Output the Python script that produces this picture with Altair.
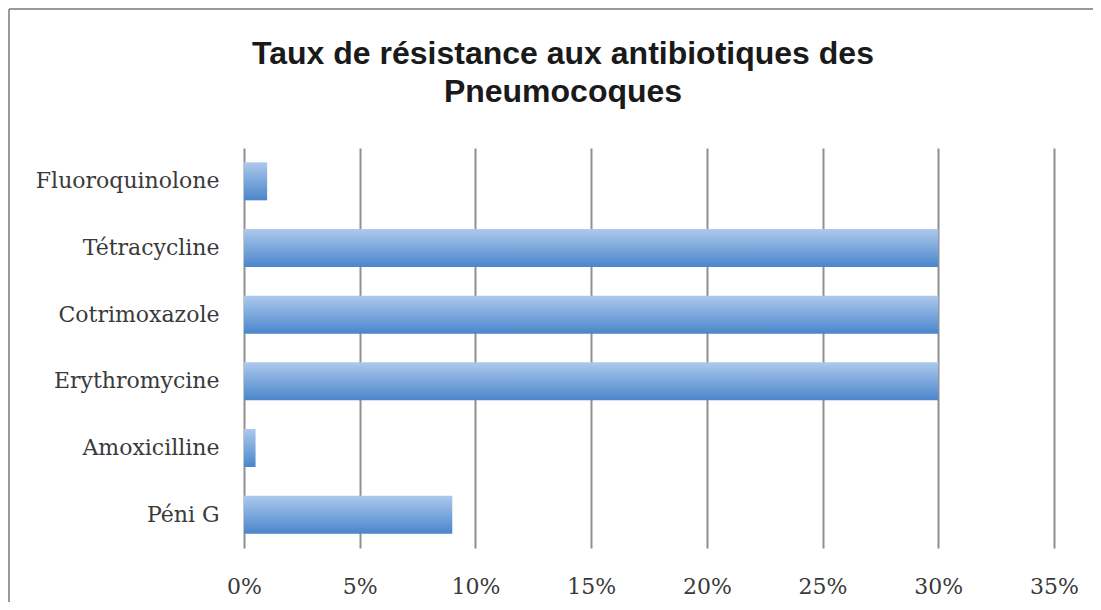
import altair as alt
import pandas as pd

categories = ["Fluoroquinolone", "Tétracycline", "Cotrimoxazole", "Erythromycine", "Amoxicilline", "Péni G"]
values = [0.01, 0.30, 0.30, 0.30, 0.005, 0.09]
tick_values = [0, 0.05, 0.10, 0.15, 0.20, 0.25, 0.30, 0.35]
title_line1 = "Taux de résistance aux antibiotiques des"
title_line2 = "Pneumocoques"

df = pd.DataFrame({"cat": categories, "val": values})

grad = alt.Gradient(
    gradient="linear",
    x1=0, y1=0, x2=0, y2=1,
    stops=[
        alt.GradientStop(color="#adc9ec", offset=0),
        alt.GradientStop(color="#4a86cb", offset=1),
    ],
)

label_font = "DejaVu Serif"

bars = alt.Chart(df).mark_bar(color=grad).encode(
    x=alt.X(
        "val:Q",
        scale=alt.Scale(domain=[0, 0.35], nice=False),
        axis=alt.Axis(
            values=tick_values,
            format=".0%",
            title=None,
            domain=False,
            ticks=False,
            grid=True,
            gridColor="#8f8f8f",
            gridWidth=2,
            labelFont=label_font,
            labelFontSize=22,
            labelColor="#3a3a3a",
            labelPadding=28,
            labelFlush=False,
        ),
    ),
    y=alt.Y(
        "cat:N",
        sort=categories,
        scale=alt.Scale(paddingInner=0.43, paddingOuter=0.215),
        axis=alt.Axis(
            title=None,
            domain=False,
            ticks=False,
            labelFont=label_font,
            labelFontSize=22,
            labelColor="#3a3a3a",
            labelPadding=25,
            labelLimit=400,
        ),
    ),
)

frame_style = dict(stroke="#999999", strokeWidth=2)
top_edge = alt.Chart(alt.Data(values=[{}])).mark_rule(**frame_style).encode(
    x=alt.value(-235), x2=alt.value(849), y=alt.value(-139)
)
left_edge = alt.Chart(alt.Data(values=[{}])).mark_rule(**frame_style).encode(
    x=alt.value(-235), y=alt.value(-139), y2=alt.value(454)
)

title_style = dict(font="Liberation Sans", fontSize=32, fontWeight="bold",
                   color="#1a1a1a", align="center", baseline="alphabetic")

t1 = alt.Chart(alt.Data(values=[{"t": title_line1}])).mark_text(**title_style).encode(
    text="t:N", x=alt.value(319), y=alt.value(-84)
)
t2 = alt.Chart(alt.Data(values=[{"t": title_line2}])).mark_text(**title_style).encode(
    text="t:N", x=alt.value(319), y=alt.value(-46)
)

chart = alt.layer(top_edge, left_edge, bars, t1, t2).properties(
    width=810,
    height=400,
    padding={"left": 236, "top": 140, "right": 39, "bottom": 54},
    autosize=alt.AutoSizeParams(type="none"),
).configure_view(stroke=None)

chart.save("out.html", embed_options={"renderer": "svg", "actions": False})
